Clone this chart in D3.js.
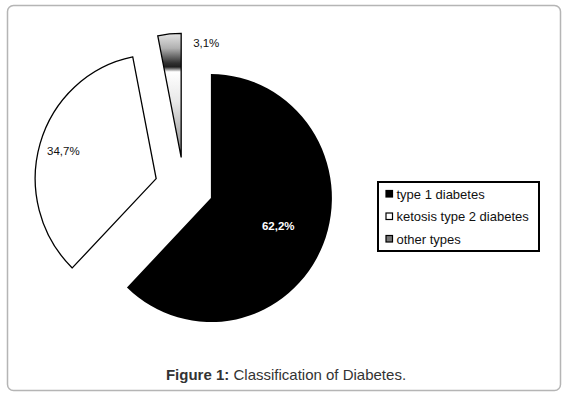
<!DOCTYPE html>
<html>
<head>
<meta charset="utf-8">
<script src="https://cdn.jsdelivr.net/npm/d3@7"></script>
<style>
  body { margin: 0; background: #fff; }
  svg { display: block; font-family: Arial, "Liberation Sans", sans-serif; }
</style>
</head>
<body>
<svg width="565" height="396"></svg>
<script>
// data
const categories = ["type 1 diabetes", "ketosis type 2 diabetes", "other types"];
const shares     = [62.2, 34.7, 3.1];
const labels     = ["62,2%", "34,7%", "3,1%"];

const svg    = d3.select("svg"),
      cx     = 184, cy = 187,   // pie centre before explosion
      rx     = 121, ry = 124,
      k      = ry / rx,
      explode = 29;

const fills  = ["#000", "#fff", "url(#metal)"],
      stroke = ["none", "#000", "#000"],
      labelR = [0.6, 0.8, 0.93],
      labelDx = [0, 0, 36],
      labelCol = ["#fff", "#111", "#111"],
      labelW = ["bold", "normal", "normal"];

// outer frame
svg.append("rect")
    .attr("x", 7.5).attr("y", 5.5)
    .attr("width", 553).attr("height", 385)
    .attr("rx", 6)
    .style("fill", "none")
    .style("stroke", "#b5b5b5")
    .style("stroke-width", 1.5);

// gradient for the small slice
const grad = svg.append("defs").append("linearGradient")
    .attr("id", "metal")
    .attr("gradientUnits", "userSpaceOnUse")
    .attr("x1", 0).attr("y1", -rx).attr("x2", 0).attr("y2", 0);
[[0, "#e4e4e4"], [0.12, "#b0b0b0"], [0.24, "#303030"], [0.27, "#202020"],
 [0.31, "#ffffff"], [0.55, "#e8e8e8"], [1, "#8a8a8a"]]
  .forEach(s => grad.append("stop").attr("offset", s[0]).attr("stop-color", s[1]));

const pie = d3.pie().sort(null).value(d => d)(shares);
const arc = d3.arc().innerRadius(0).outerRadius(rx);

const slices = svg.selectAll(".slice")
  .data(pie)
  .enter().append("g")
    .attr("class", "slice")
    .attr("transform", d => {
      const m = (d.startAngle + d.endAngle) / 2;
      return `translate(${cx + explode * Math.sin(m)},${cy - explode * Math.cos(m) * k}) scale(1,${k})`;
    });

slices.append("path")
    .attr("d", arc)
    .style("fill", (d, i) => fills[i])
    .style("stroke", (d, i) => stroke[i])
    .style("stroke-width", 1.3)
    .style("stroke-linejoin", "miter")
    .attr("vector-effect", "non-scaling-stroke");

// percentage labels
svg.selectAll(".lbl")
  .data(pie)
  .enter().append("text")
    .attr("class", "lbl")
    .attr("x", (d, i) => {
      const m = (d.startAngle + d.endAngle) / 2;
      return cx + (explode + labelR[i] * rx) * Math.sin(m) + labelDx[i];
    })
    .attr("y", (d, i) => {
      const m = (d.startAngle + d.endAngle) / 2;
      return cy - (explode + labelR[i] * rx) * Math.cos(m) * k;
    })
    .attr("dy", "0.35em")
    .attr("text-anchor", "middle")
    .style("font-size", "11.5px")
    .style("font-weight", (d, i) => labelW[i])
    .style("fill", (d, i) => labelCol[i])
    .text((d, i) => labels[i]);

// legend
const lg = svg.append("g").attr("transform", "translate(378,182)");
lg.append("rect")
    .attr("width", 161).attr("height", 69)
    .style("fill", "#fff")
    .style("stroke", "#000")
    .style("stroke-width", 2);

const rowY = d3.scalePoint().domain(categories).range([12, 57]);

const items = lg.selectAll(".item")
  .data(categories)
  .enter().append("g")
    .attr("class", "item")
    .attr("transform", d => `translate(0,${rowY(d)})`);

items.append("rect")
    .attr("x", 8).attr("y", -3.5)
    .attr("width", 6.5).attr("height", 6.5)
    .style("fill", (d, i) => i === 2 ? "#777" : fills[i])
    .style("stroke", "#000")
    .style("stroke-width", 1.2);

items.append("text")
    .attr("x", 18.5)
    .attr("dy", "0.35em")
    .style("font-size", "13px")
    .style("fill", "#111")
    .text(d => d);

// caption
const cap = svg.append("text")
    .attr("x", 286).attr("y", 380)
    .attr("text-anchor", "middle")
    .style("font-size", "15px")
    .style("fill", "#333");
cap.append("tspan").style("font-weight", "bold").text("Figure 1:");
cap.append("tspan").text(" Classification of Diabetes.");
</script>
</body>
</html>
